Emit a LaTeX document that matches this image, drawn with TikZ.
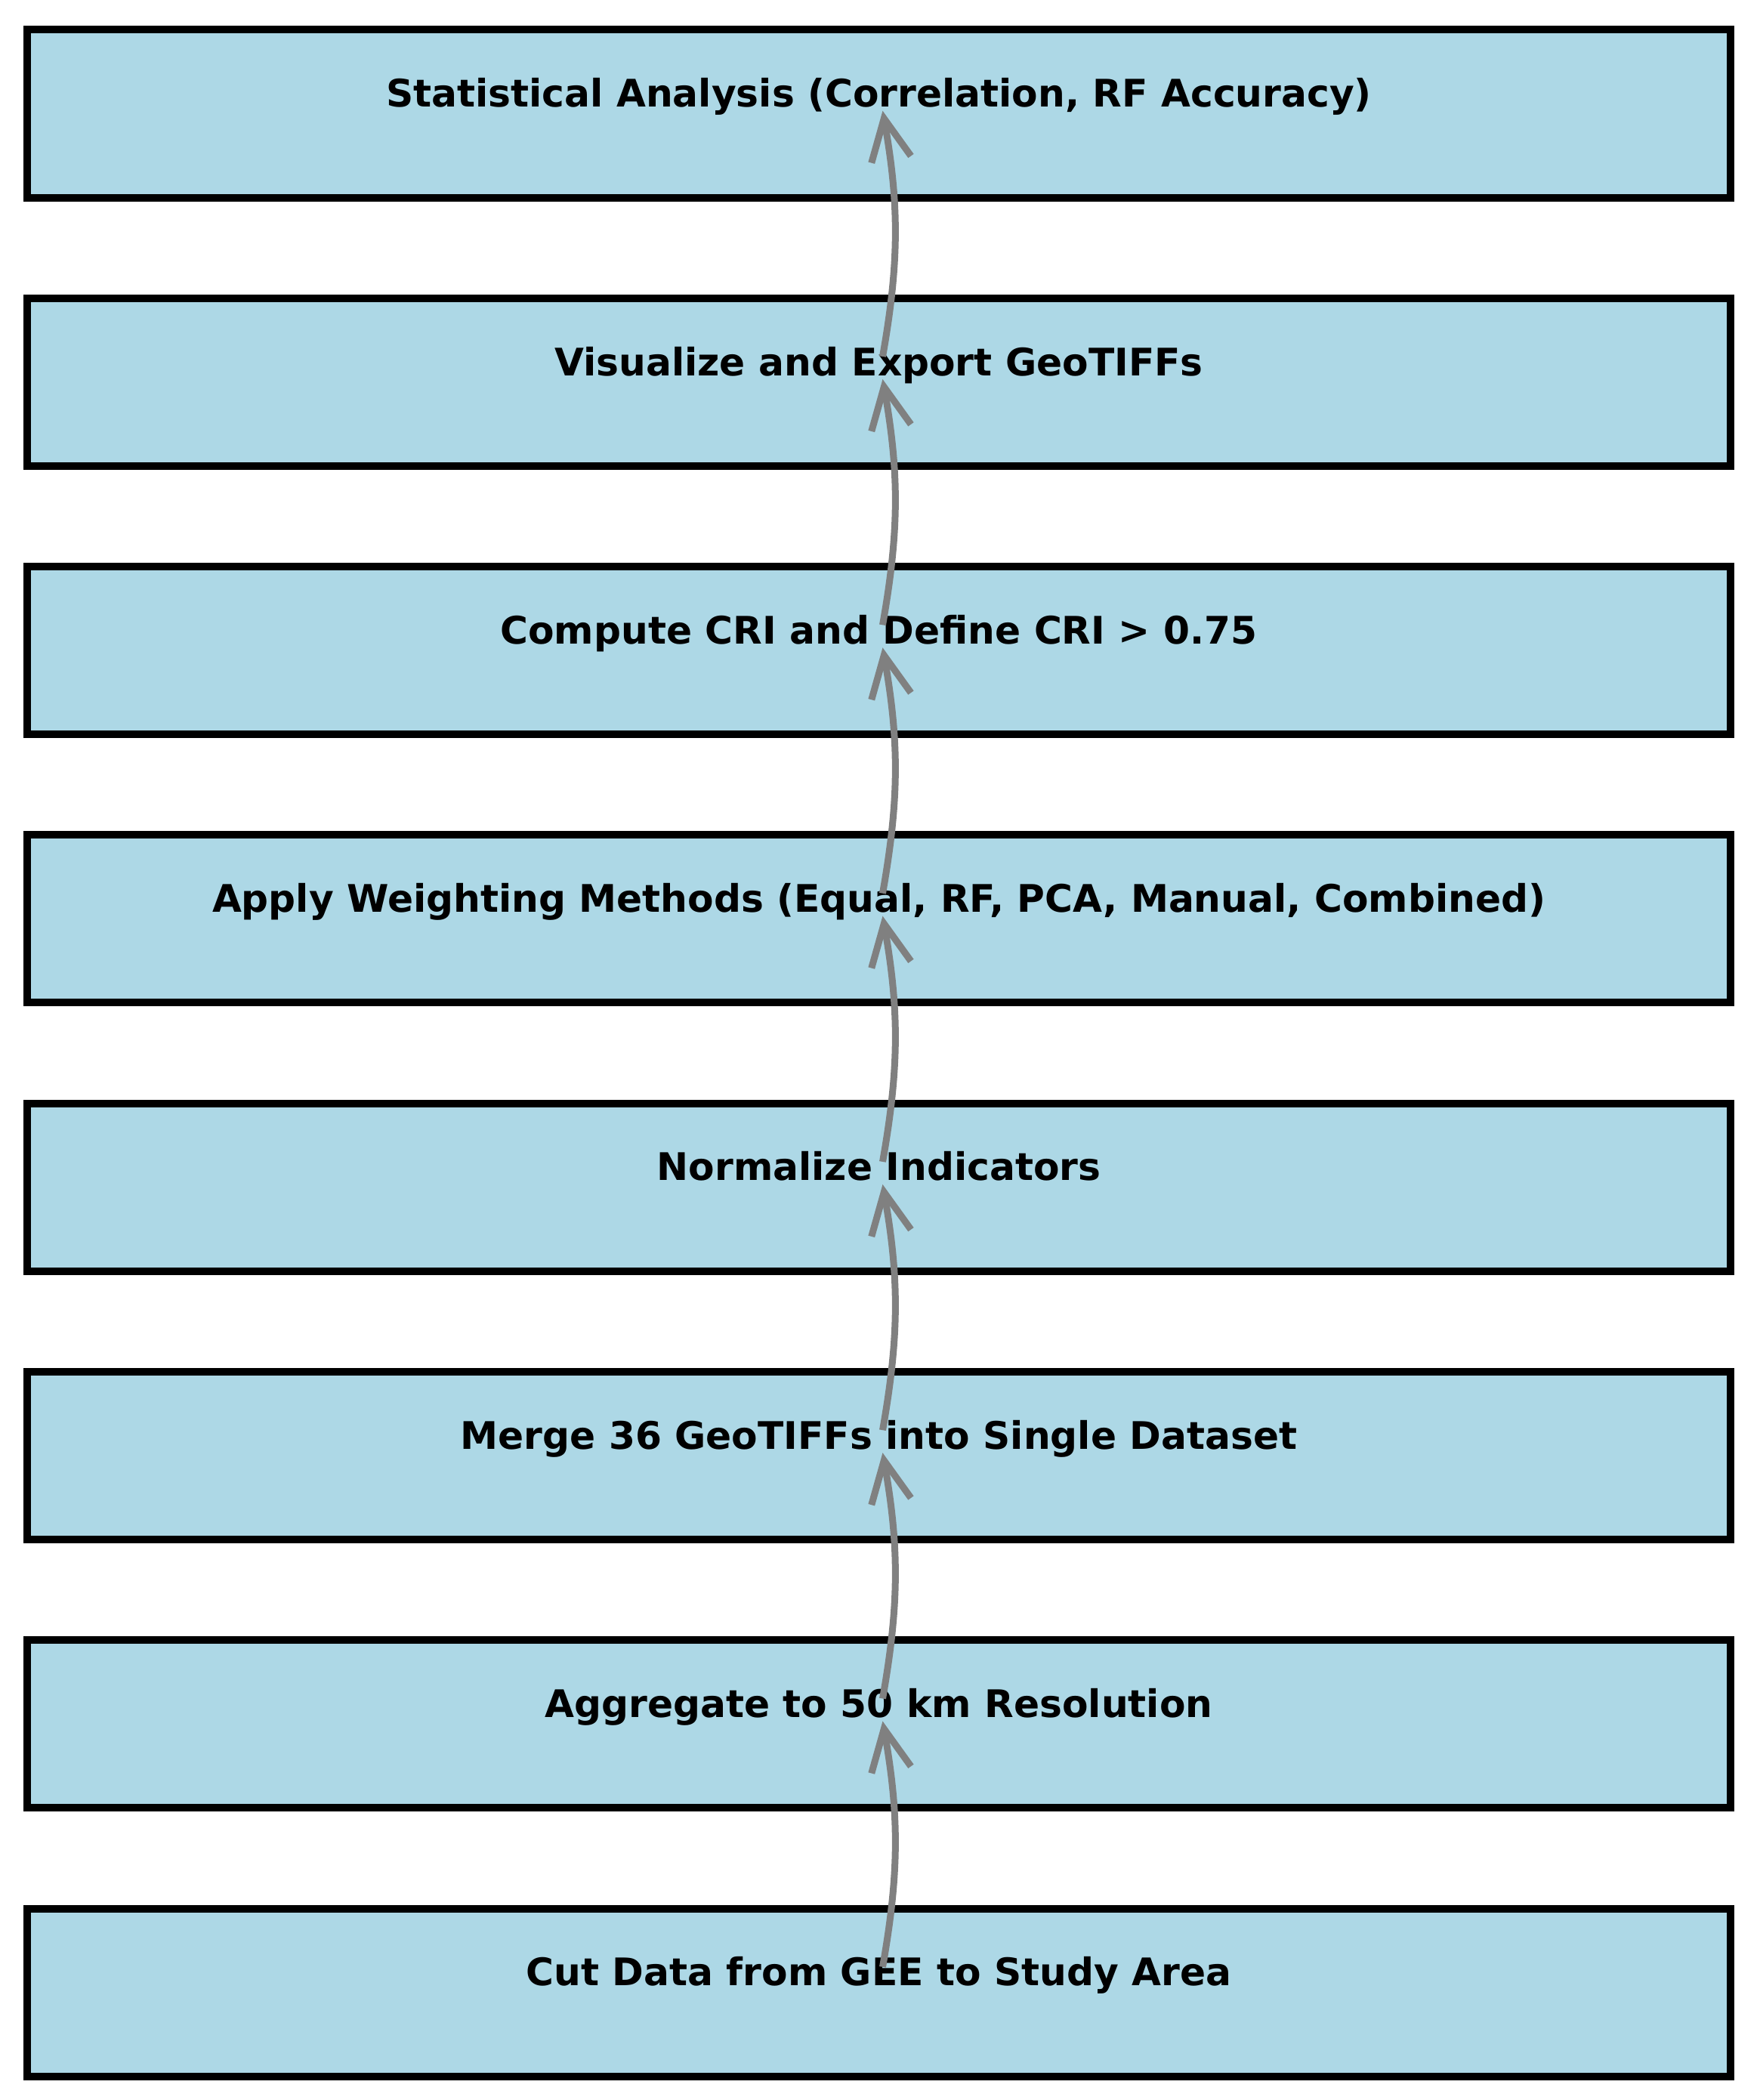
\documentclass[tikz,border=0pt]{standalone}
\usepackage{fontspec}
\setmainfont{DejaVu Sans}
\usepackage{tikz}
\usetikzlibrary{arrows.meta,positioning}
\definecolor{boxblue}{HTML}{ADD8E6}
\definecolor{flowgray}{HTML}{808080}

\begin{document}
\begin{tikzpicture}[
    stepbox/.style={rectangle, draw=black, fill=boxblue, line width=0.1cm,
                    minimum width=22.55cm, minimum height=2.22cm, inner sep=0pt},
    steptext/.style={anchor=base, font=\fontsize{14.3}{17}\selectfont\bfseries, inner sep=0pt},
    flow/.style={-{Straight Barb[length=5.5mm, width=5.3mm]}, line width=0.09cm, color=flowgray}
]
    \useasboundingbox (0,0) rectangle (23.29,-27.80);

    % Boxes
    \node[stepbox] (statbox) at (11.635,-1.505) {};
    \node[stepbox] (visbox) at (11.635,-5.058) {};
    \node[stepbox] (cribox) at (11.635,-8.611) {};
    \node[stepbox] (weightbox) at (11.635,-12.164) {};
    \node[stepbox] (normbox) at (11.635,-15.717) {};
    \node[stepbox] (mergebox) at (11.635,-19.270) {};
    \node[stepbox] (aggbox) at (11.635,-22.823) {};
    \node[stepbox] (cutbox) at (11.635,-26.376) {};

    % Labels
    \node[steptext] (stat) at (11.635,-1.417) {Statistical Analysis (Correlation, RF Accuracy)};
    \node[steptext] (vis) at (11.635,-4.970) {Visualize and Export GeoTIFFs};
    \node[steptext] (cri) at (11.635,-8.523) {Compute CRI and Define CRI > 0.75};
    \node[steptext] (weight) at (11.635,-12.076) {Apply Weighting Methods (Equal, RF, PCA, Manual, Combined)};
    \node[steptext] (norm) at (11.635,-15.629) {Normalize Indicators};
    \node[steptext] (merge) at (11.635,-19.182) {Merge 36 GeoTIFFs into Single Dataset};
    \node[steptext] (agg) at (11.635,-22.735) {Aggregate to 50 km Resolution};
    \node[steptext] (cut) at (11.635,-26.288) {Cut Data from GEE to Study Area};

    % Flow
    \foreach \a/\b in {cut/agg, agg/merge, merge/norm, norm/weight, weight/cri, cri/vis, vis/stat}
        \draw[flow] ([xshift=0.05cm, yshift=0.25cm]\a.base) to[bend right=10] ([xshift=0.05cm, yshift=-0.05cm]\b.base);
\end{tikzpicture}
\end{document}
